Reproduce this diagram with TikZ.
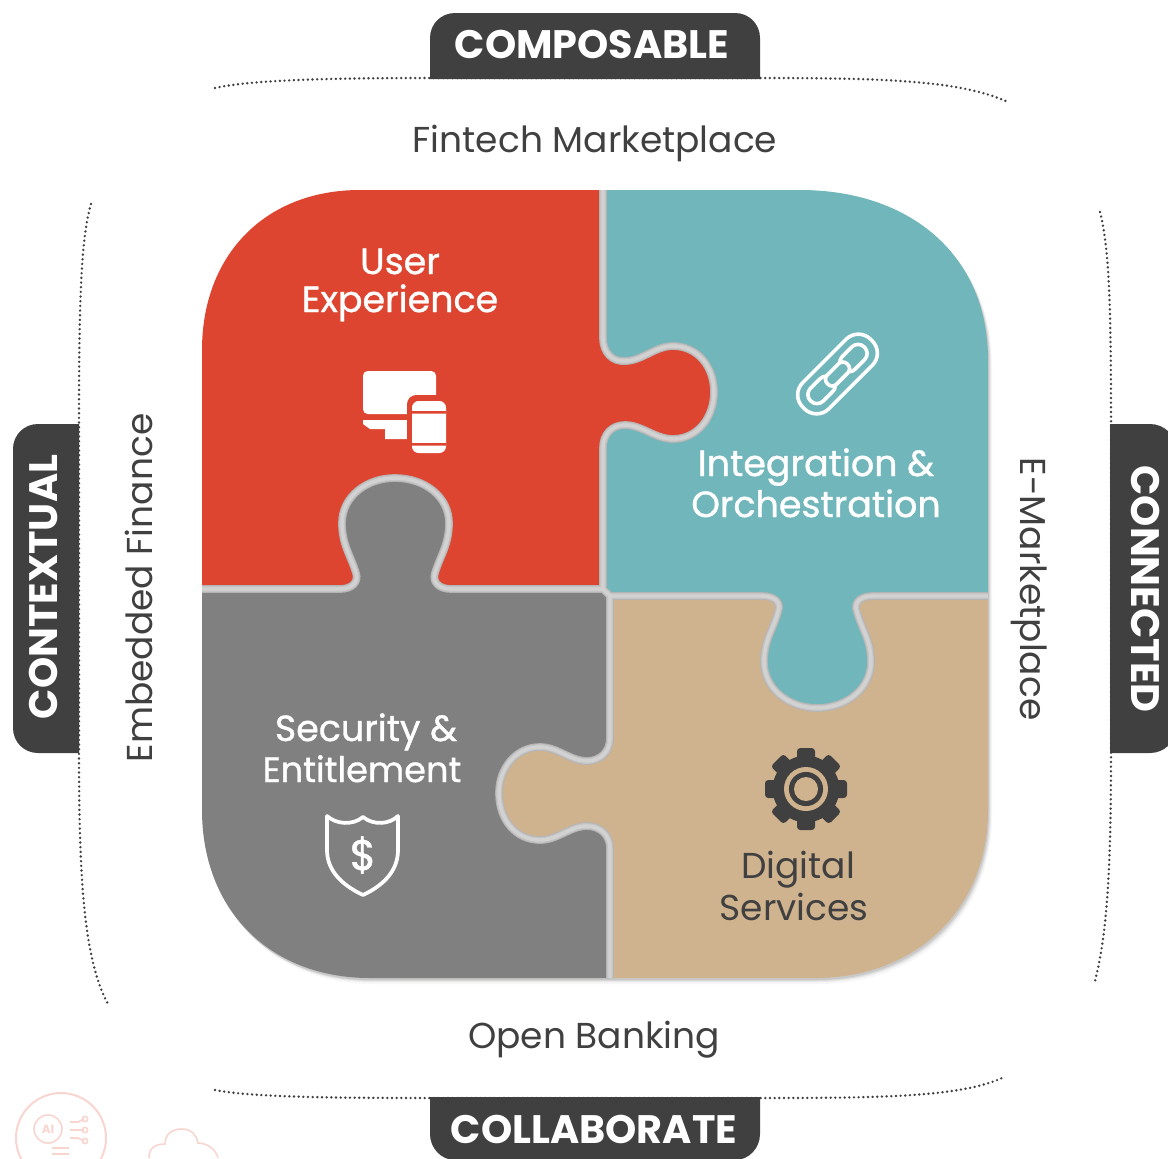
\documentclass[tikz,border=0pt]{standalone}
\usepackage{fontspec}
\setmainfont{Poppins}
\newfontfamily\medf[FakeBold=1.0]{Poppins}
\definecolor{cred}{HTML}{DD4530}
\definecolor{cteal}{HTML}{70B6BA}
\definecolor{cgray}{HTML}{808080}
\definecolor{ctan}{HTML}{CFB28E}
\definecolor{cdark}{HTML}{404040}
\definecolor{cfaint}{HTML}{F8D5CF}
\def\pathA{(603,190) -- (603,338) .. controls (603,352) and (612,362) .. (625,361) .. controls (642,361) and (655,346) .. (673,346) .. controls (697,346) and (714,366) .. (714,392) .. controls (714,418) and (697,439) .. (673,439) .. controls (655,439) and (642,425) .. (625,425) .. controls (612,425) and (603,434) .. (603,448) -- (603,589)}
\def\pathB{(202,589) -- (340,589) .. controls (352,589) and (359,582) .. (356,573) .. controls (351,556) and (342,545) .. (342,523) .. controls (342,497) and (366,478) .. (395,478) .. controls (425,478) and (449,497) .. (449,523) .. controls (449,545) and (440,556) .. (435,573) .. controls (432,582) and (439,589) .. (451,589) -- (603,589)}
\def\pathC{(610,596) -- (610,738) .. controls (610,752) and (600,761) .. (587,761) .. controls (570,761) and (558,747) .. (540,747) .. controls (516,747) and (499,768) .. (499,793) .. controls (499,820) and (516,840) .. (540,840) .. controls (558,840) and (570,826) .. (587,826) .. controls (600,826) and (610,835) .. (610,848) -- (610,978)}
\def\pathD{(610,596) -- (762,596) .. controls (774,596) and (782,602) .. (778,612) .. controls (773,630) and (764,640) .. (764,662) .. controls (764,688) and (788,708) .. (817,708) .. controls (847,708) and (871,688) .. (871,662) .. controls (871,640) and (862,630) .. (857,612) .. controls (853,602) and (861,596) .. (873,596) -- (988,596)}
\def\outline{(202,350) .. controls (202,255) and (265,190) .. (360,190) -- (800,190) .. controls (910,190) and (988,255) .. (988,360) -- (988,810) .. controls (988,910) and (915,978) .. (815,978) -- (370,978) .. controls (270,978) and (202,910) .. (202,810) -- cycle}
\tikzset{
  x=0.75pt,y=-0.75pt,
  dots/.style={cdark,line width=2pt,dash pattern=on 0pt off 3.5pt,line cap=round},
  badgetext/.style={white,font=\fontsize{29.8}{31}\selectfont\bfseries,inner sep=0pt,anchor=base},
  outertext/.style={cdark,font=\fontsize{27}{30}\selectfont,inner sep=0pt,anchor=base},
  piecetext/.style={white,font=\medf\fontsize{27.3}{30}\selectfont,inner sep=0pt,anchor=base},
  band/.style={line cap=butt,line join=round},
  faint/.style={draw=cfaint,line width=1.2pt},
  linkline/.style={draw=white,line width=2.7pt,fill=cteal}
}
\begin{document}
\begin{tikzpicture}
\useasboundingbox (0,0) rectangle (1168,1158);
% faint icons
\node[draw=cfaint,line width=1.5pt,circle,minimum size=67.5pt,inner sep=0pt] (aiRing) at (61,1138) {};
\node[text=cfaint,font=\fontsize{9}{10}\selectfont\bfseries,inner sep=0pt] (aiText) at (48,1129) {AI};
\draw[faint] (48,1129) circle (10.5pt);
\draw[faint] (70,1122)--(78,1122) (70,1130)--(84,1130) (70,1138)--(78,1138) (78,1122)--(84,1119) (78,1138)--(84,1141);
\draw[faint] (85,1119) circle (2pt) (85,1130) circle (2pt) (85,1141) circle (2pt);
\draw[faint] (52,1148)--(69,1148) (52,1154)--(69,1154);
\draw[faint] (149,1158) .. controls (149,1148) and (155,1144) .. (165,1144) .. controls (165,1134) and (172,1129) .. (182,1129) .. controls (192,1129) and (197,1136) .. (198,1143) .. controls (208,1143) and (216,1150) .. (218,1158);
% dotted arcs
\draw[dots] (215,88) .. controls (250,80) and (330,78) .. (430,78) -- (760,78) .. controls (880,78) and (960,80) .. (1008,102);
\draw[dots] (215,1090) .. controls (250,1097) and (330,1098) .. (430,1098) -- (760,1098) .. controls (880,1098) and (960,1097) .. (1002,1078);
\draw[dots] (91,204) .. controls (80,240) and (79,320) .. (79,424) -- (79,753) .. controls (79,880) and (84,960) .. (108,1004);
\draw[dots] (1100,212) .. controls (1110,250) and (1111,320) .. (1111,424) -- (1111,753) .. controls (1111,860) and (1108,930) .. (1095,981);
% badges
\fill[cdark] (430,79) -- (430,38) .. controls (430,24) and (441,13) .. (455,13) -- (735,13) .. controls (749,13) and (760,24) .. (760,38) -- (760,79) -- cycle;
\fill[cdark] (430,1097) -- (430,1134) .. controls (430,1148) and (441,1160) .. (455,1160) -- (735,1160) .. controls (749,1160) and (760,1148) .. (760,1134) -- (760,1097) -- cycle;
\fill[cdark] (79,424) -- (38,424) .. controls (24,424) and (13,435) .. (13,449) -- (13,728) .. controls (13,742) and (24,753) .. (38,753) -- (79,753) -- cycle;
\fill[cdark] (1110,424) -- (1150,424) .. controls (1164,424) and (1176,435) .. (1176,449) -- (1176,728) .. controls (1176,742) and (1164,753) .. (1150,753) -- (1110,753) -- cycle;
\node[badgetext] (composable) at (592,58) {COMPOSABLE};
\node[badgetext] (collaborate) at (594,1143) {COLLABORATE};
\node[badgetext,rotate=90] (contextual) at (57,587) {CONTEXTUAL};
\node[badgetext,rotate=-90] (connected) at (1131,589) {CONNECTED};
\node[outertext] (fintech) at (595,152) {Fintech Marketplace};
\node[outertext] (openb) at (594,1048) {Open Banking};
\node[outertext,rotate=90] (embedded) at (152,588) {Embedded Finance};
\node[outertext,rotate=-90] (emarket) at (1020,589) {E-Marketplace};
% shadow
\foreach \dx/\dy/\o in {4/6/0.03,3/4/0.05,2/3/0.07,1/2/0.08}{
  \fill[black,opacity=\o,shift={(\dx,\dy)}] \outline;
}
% puzzle
\begin{scope}
\clip \outline;
\fill[ctan] (400,590) rectangle (1100,1100);
\fill[cteal] \pathD -- (1100,596) -- (1100,100) -- (603,100) -- (603,596) -- cycle;
\fill[cred] \pathA -- (100,589) -- (100,100) -- (603,100) -- cycle;
\fill[cgray] (100,589) -- \pathB -- (610,596) -- (610,738) .. controls (610,752) and (600,761) .. (587,761) .. controls (570,761) and (558,747) .. (540,747) .. controls (516,747) and (499,768) .. (499,793) .. controls (499,820) and (516,840) .. (540,840) .. controls (558,840) and (570,826) .. (587,826) .. controls (600,826) and (610,835) .. (610,848) -- (610,1100) -- (100,1100) -- cycle;
\foreach \w/\c in {5.8/B4B4B4,4.4/C4C4C4,2.6/D2D2D2}{
  \definecolor{bandc}{HTML}{\c}
  \draw[band,bandc,line width=\w pt] \pathA -- (610,596);
  \draw[band,bandc,line width=\w pt] \pathB;
  \draw[band,bandc,line width=\w pt] \pathC;
  \draw[band,bandc,line width=\w pt] \pathD;
}
\end{scope}
% labels
\node[piecetext] (ux1) at (400,274) {User};
\node[piecetext] (ux2) at (400,312) {Experience};
\node[piecetext] (io1) at (816,476) {Integration \&};
\node[piecetext] (io2) at (816,517) {Orchestration};
\node[piecetext] (se1) at (366,741) {Security \&};
\node[piecetext,font=\medf\fontsize{26.4}{30}\selectfont] (se2) at (362,782) {Entitlement};
\node[outertext] (ds1) at (798,878) {Digital};
\node[outertext] (ds2) at (794,920) {Services};
% device icon
\fill[white,rounded corners=3.5pt] (363,414) -- (363,371) -- (436,371) -- (436,414) -- cycle;
\fill[white] (363,420) -- (407,420) -- (407,439) -- (385,439) -- (385,429) -- (370,429) -- (363,424) -- cycle;
\fill[cred,rounded corners=7pt] (407,395) rectangle (450,458);
\fill[white,rounded corners=5pt] (412,401) rectangle (446,453);
\fill[cred] (412,411) rectangle (446,413.5) (412,443) rectangle (446,445.5);
% chain icon
\begin{scope}[shift={(837.5,374)},rotate=45]
\draw[linkline,rounded corners=13pt] (-48,-18.5) rectangle (48,18.5);
\draw[linkline,rounded corners=6.5pt] (7,-9) rectangle (38,9);
\draw[linkline,rounded corners=6.5pt] (-38,-9) rectangle (-7,9);
\draw[linkline,rounded corners=4.5pt] (-14,-6.5) rectangle (14,6.5);
\end{scope}
% shield
\draw[white,line width=2.8pt,line join=round] (327,816) .. controls (336,824) and (352,826) .. (363,817) .. controls (374,826) and (390,824) .. (398,816) -- (398,850) .. controls (398,872) and (382,886) .. (363,895) .. controls (344,886) and (327,872) .. (327,850) -- cycle;
\node[white,font=\medf\fontsize{32}{34}\selectfont,inner sep=0pt] (dollar) at (363,855) {\$};
% gear
\foreach \a in {0,45,...,315}{
  \fill[cdark,rounded corners=2.5pt,shift={(806,789)},rotate=\a] (-9,-41) rectangle (9,0);
}
\fill[cdark] (806,789) circle (25pt);
\fill[ctan] (806,789) circle (16.5pt);
\fill[cdark] (806,789) circle (12.8pt);
\fill[ctan] (806,789) circle (9pt);
\end{tikzpicture}
\end{document}
